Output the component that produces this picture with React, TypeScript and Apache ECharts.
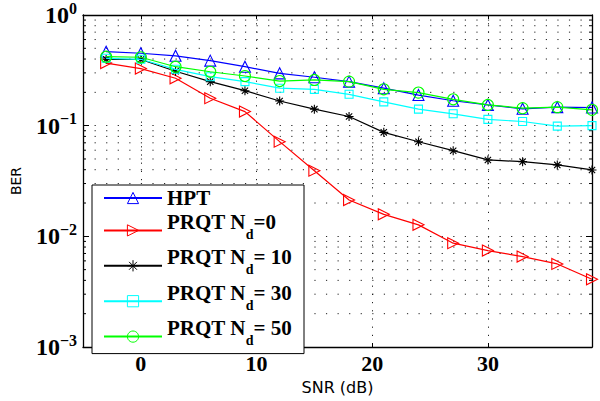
import { useEffect, useRef } from 'react';
import * as echarts from 'echarts';

const snr = [-3, 0, 3, 6, 9, 12, 15, 18, 21, 24, 27, 30, 33, 36, 39];
const berHPT = [0.466, 0.451, 0.428, 0.387, 0.341, 0.297, 0.274, 0.25, 0.218, 0.189, 0.168, 0.154, 0.142, 0.147, 0.146];
const berNd0 = [0.368, 0.328, 0.268, 0.177, 0.134, 0.0717, 0.0392, 0.0213, 0.0158, 0.0127, 0.00867, 0.00743, 0.00656, 0.00563, 0.00409];
const berNd10 = [0.398, 0.396, 0.31, 0.25, 0.207, 0.167, 0.141, 0.121, 0.087, 0.0716, 0.0594, 0.049, 0.0473, 0.0442, 0.0398];
const berNd30 = [0.406, 0.398, 0.323, 0.277, 0.25, 0.218, 0.213, 0.192, 0.164, 0.141, 0.128, 0.114, 0.109, 0.099, 0.1];
const berNd50 = [0.42, 0.415, 0.341, 0.307, 0.281, 0.253, 0.259, 0.25, 0.213, 0.199, 0.173, 0.154, 0.144, 0.147, 0.139];

const seriesNames = ['HPT', 'PRQT Nd=0', 'PRQT Nd= 10', 'PRQT Nd= 30', 'PRQT Nd= 50'];
const seriesColors = ['#0000ff', '#ff0000', '#000000', '#00ffff', '#00ff00'];
const xTickLabels = ['0', '10', '20', '30'];
const X_MIN = -5;
const X_MAX = 39;
const Y_MIN = 0.001;
const Y_MAX = 1;
const decades = [0.001, 0.01, 0.1];
const minorMultipliers = [2, 3, 4, 5, 6, 7, 8, 9];

const SERIF = '"Liberation Serif", "Times New Roman", serif';
const SANS = '"DejaVu Sans", "Liberation Sans", sans-serif';

const symbols = [
  'triangle',
  'path://M0,0L10,5L0,10Z',
  'path://M5,0L5,10M0,5L10,5M1.5,1.5L8.5,8.5M8.5,1.5L1.5,8.5',
  'rect',
  'circle',
];
const symbolSizes = [11, 11, 9, 8, 11];
const seriesData = [berHPT, berNd0, berNd10, berNd30, berNd50];

export default function App() {
  const ref = useRef<HTMLDivElement>(null);
  useEffect(() => {
    const chart = echarts.init(ref.current!, null, { renderer: 'svg' });
    const minorValues: number[] = [];
    decades.forEach((d) => minorMultipliers.forEach((m) => minorValues.push(+(d * m).toPrecision(3))));

    const lineSeries = seriesNames.map((name, k) => ({
      type: 'line',
      name,
      data: snr.map((x, i) => [x, seriesData[k][i]]),
      symbol: symbols[k],
      symbolSize: symbolSizes[k],
      showSymbol: true,
      color: seriesColors[k],
      lineStyle: { color: seriesColors[k], width: 1.2 },
      itemStyle: { color: 'rgba(0,0,0,0)', borderColor: seriesColors[k], borderWidth: 1.1 },
      emphasis: { disabled: true },
      z: 3 + k,
    }));

    const minorSeries = {
      type: 'custom',
      name: 'minor',
      silent: true,
      z: 1,
      data: minorValues.map((v) => [X_MIN, v]),
      encode: { x: 0, y: 1 },
      renderItem: (_p: any, api: any) => {
        const v = api.value(1);
        const p0 = api.coord([X_MIN, v]);
        const p1 = api.coord([X_MAX, v]);
        return {
          type: 'group',
          children: [
            { type: 'line', shape: { x1: p0[0], y1: p0[1], x2: p1[0], y2: p1[1] }, style: { stroke: '#222', lineWidth: 1, lineDash: [1.2, 10.37] } },
            { type: 'line', shape: { x1: p0[0], y1: p0[1], x2: p0[0] + 3, y2: p0[1] }, style: { stroke: '#000', lineWidth: 1 } },
            { type: 'line', shape: { x1: p1[0] - 3, y1: p1[1], x2: p1[0], y2: p1[1] }, style: { stroke: '#000', lineWidth: 1 } },
          ],
        };
      },
    };

    const axisLine = { show: true, onZero: false, lineStyle: { color: '#000', width: 1.3 } };
    const gridDotH = { show: true, lineStyle: { color: '#222', width: 1, type: [1.2, 10.37] as any } };
    const gridDotV = { show: true, lineStyle: { color: '#222', width: 1, type: [1.2, 7] as any } };

    const option: any = {
      animation: false,
      grid: { left: 83, right: 8, top: 15, bottom: 54, containLabel: false, outerBoundsMode: 'none' },
      xAxis: [
        {
          type: 'value', min: X_MIN, max: X_MAX, position: 'bottom',
          axisLine, axisTick: { show: true, inside: true, length: 4, lineStyle: { color: '#000' } },
          axisLabel: {
            margin: 5, color: '#000', fontFamily: SERIF, fontWeight: 'bold', fontSize: 22,
            showMinLabel: false, showMaxLabel: false,
            formatter: (v: number) => (xTickLabels.includes(String(v)) ? String(v) : ''),
          },
          splitLine: gridDotV,
          name: 'SNR (dB)', nameLocation: 'middle', nameGap: 32,
          nameTextStyle: { fontFamily: SANS, fontSize: 16, color: '#000' },
        },
        {
          type: 'value', min: X_MIN, max: X_MAX, position: 'top',
          axisLine, axisTick: { show: true, inside: true, length: 4, lineStyle: { color: '#000' } },
          axisLabel: { show: false }, splitLine: { show: false },
        },
      ],
      yAxis: [
        {
          type: 'log', logBase: 10, min: Y_MIN, max: Y_MAX, position: 'left',
          axisLine, axisTick: { show: true, inside: true, length: 6, lineStyle: { color: '#000' } },
          axisLabel: {
            margin: 6, color: '#000', fontFamily: SERIF, fontWeight: 'bold', fontSize: 24,
            formatter: (v: number) => {
              const e = Math.round(Math.log10(v));
              return `{b|10}{s|${e < 0 ? '\u2212' + -e : e}}`;
            },
            rich: {
              b: { fontFamily: SERIF, fontWeight: 'bold', fontSize: 24, lineHeight: 22, verticalAlign: 'middle', color: '#000' },
              s: { fontFamily: SERIF, fontWeight: 'bold', fontSize: 16, height: 8, lineHeight: 8, verticalAlign: 'top', color: '#000' },
            },
          },
          splitLine: gridDotH,
          name: 'BER', nameLocation: 'middle', nameGap: 60, nameRotate: 90,
          nameTextStyle: { fontFamily: SANS, fontSize: 14, color: '#000' },
        },
        {
          type: 'log', logBase: 10, min: Y_MIN, max: Y_MAX, position: 'right',
          axisLine, axisTick: { show: true, inside: true, length: 6, lineStyle: { color: '#000' } },
          axisLabel: { show: false }, splitLine: { show: false },
        },
      ],
      legend: {
        data: seriesNames,
        orient: 'vertical',
        left: 92,
        top: 185,
        itemWidth: 58,
        itemHeight: 14,
        itemGap: 1.4,
        padding: [1, 12, 2, 11],
        borderColor: '#000',
        borderWidth: 1,
        backgroundColor: '#fff',
        selectedMode: false,
        itemStyle: { borderWidth: 1 },
        formatter: (name: string) => {
          if (name.indexOf('Nd') < 0) return `{h|${name}}`;
          const parts = name.split('Nd');
          return `{m|${parts[0]}N}{d|d}{m|${parts[1]}}{z| }`;
        },
        textStyle: {
          fontFamily: SERIF, fontWeight: 'bold', fontSize: 21, color: '#000',
          rich: {
            h: { fontFamily: SERIF, fontWeight: 'bold', fontSize: 21, height: 24, lineHeight: 24, color: '#000' },
            m: { fontFamily: SERIF, fontWeight: 'bold', fontSize: 21, height: 13, lineHeight: 13, verticalAlign: 'top', color: '#000' },
            d: { fontFamily: SERIF, fontWeight: 'bold', fontSize: 14, height: 22, lineHeight: 22, verticalAlign: 'bottom', color: '#000' },
            z: { fontSize: 1, height: 30, lineHeight: 30, color: '#000' },
          },
        },
      },
      series: [minorSeries, ...lineSeries],
    };
    chart.setOption(option);
    return () => chart.dispose();
  }, []);
  return <div ref={ref} style={{ position: 'fixed', left: 0, top: 0, width: 600, height: 401, background: '#fff' }} />;
}
